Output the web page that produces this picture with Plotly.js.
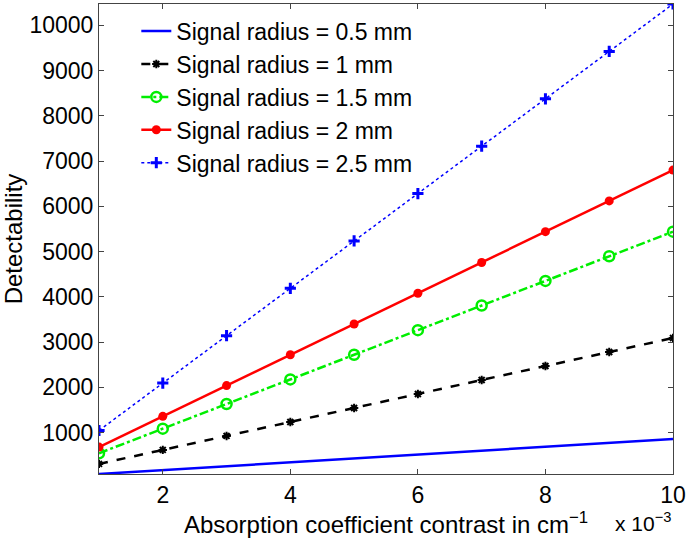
<!DOCTYPE html>
<html>
<head>
<meta charset="utf-8">
<script src="https://cdn.plot.ly/plotly-3.0.1.min.js"></script>
<style>html,body{margin:0;padding:0;background:#fff;}#chart{width:686px;height:538px;}</style>
</head>
<body>
<div id="chart"></div>
<script>
// x in units of 1e-3 cm^-1
const contrast = [1, 2, 3, 4, 5, 6, 7, 8, 9, 10];
const r05 = [86, 172, 258, 344, 430, 516, 602, 688, 774, 860];
const r10 = [309, 618, 927, 1236, 1545, 1854, 2163, 2472, 2781, 3090];
const r15 = [544, 1088, 1632, 2176, 2720, 3264, 3808, 4352, 4896, 5440];
const r20 = [680, 1360, 2040, 2720, 3400, 4080, 4760, 5440, 6120, 6800];
const r25 = [1047, 2094, 3141, 4188, 5235, 6282, 7329, 8376, 9423, 10470];
const names = ["Signal radius = 0.5 mm", "Signal radius = 1 mm", "Signal radius = 1.5 mm", "Signal radius = 2 mm", "Signal radius = 2.5 mm"];
const yTicks = [1000, 2000, 3000, 4000, 5000, 6000, 7000, 8000, 9000, 10000];
const xTicks = [2, 4, 6, 8, 10];

const FONT = "Liberation Sans, Arial, Helvetica, sans-serif";
const traces = [
  {x: contrast, y: r05, name: names[0], mode: "lines", line: {color: "#0000ff", width: 2.5}},
  {x: contrast, y: r10, name: names[1], mode: "lines+markers", line: {color: "#000000", width: 2.5, dash: "dash"},
   marker: {symbol: "asterisk-open", size: 7, color: "#000000", line: {color: "#000000", width: 2}}},
  {x: contrast, y: r15, name: names[2], mode: "lines+markers", line: {color: "#00ee00", width: 2.5, dash: "dashdot"},
   marker: {symbol: "circle-open", size: 10, color: "#00ee00", line: {color: "#00ee00", width: 2.5}}},
  {x: contrast, y: r20, name: names[3], mode: "lines+markers", line: {color: "#ff0000", width: 2.5},
   marker: {symbol: "circle", size: 9, color: "#ff0000"}},
  {x: contrast, y: r25, name: names[4], mode: "lines+markers", line: {color: "#0000ff", width: 1.5, dash: "dot"},
   marker: {symbol: "cross-thin-open", size: 8, color: "#0000ff", line: {color: "#0000ff", width: 3}}}
];

const layout = {
  width: 686, height: 538,
  margin: {l: 99, r: 13, t: 4, b: 64},
  paper_bgcolor: "#ffffff", plot_bgcolor: "#ffffff",
  font: {family: FONT, size: 23, color: "#000000"},
  showlegend: true,
  legend: {x: 0.065, y: 0.988, xanchor: "left", yanchor: "top", bgcolor: "rgba(0,0,0,0)",
           font: {family: FONT, size: 23, color: "#000000"}, tracegroupgap: 0, itemwidth: 30},
  xaxis: {
    range: [1, 10], tickvals: xTicks, ticktext: xTicks.map(String),
    showgrid: false, zeroline: false, showline: true, mirror: "ticks", linecolor: "#444444", linewidth: 1,
    ticks: "inside", ticklen: 5, tickcolor: "#444444",
    tickfont: {family: FONT, size: 23, color: "#000000"},
    title: {text: "Absorption coefficient contrast in cm<sup>\u22121</sup>", font: {family: FONT, size: 24, color: "#000000"}, standoff: 3}
  },
  yaxis: {
    range: [r05[0], r25[r25.length - 1]], tickvals: yTicks, ticktext: yTicks.map(String),
    showgrid: false, zeroline: false, showline: true, mirror: "ticks", linecolor: "#444444", linewidth: 1,
    ticks: "inside", ticklen: 5, tickcolor: "#444444",
    tickfont: {family: FONT, size: 23, color: "#000000"},
    title: {text: "Detectability", font: {family: FONT, size: 24, color: "#000000"}, standoff: 3}
  },
  annotations: [
    {xref: "paper", yref: "paper", x: 1.0, y: -0.102, xanchor: "right", yanchor: "middle",
     text: "x 10<sup>\u22123</sup>", showarrow: false, font: {family: FONT, size: 21, color: "#000000"}}
  ]
};

Plotly.newPlot("chart", traces, layout, {displayModeBar: false, staticPlot: true});
</script>
</body>
</html>
